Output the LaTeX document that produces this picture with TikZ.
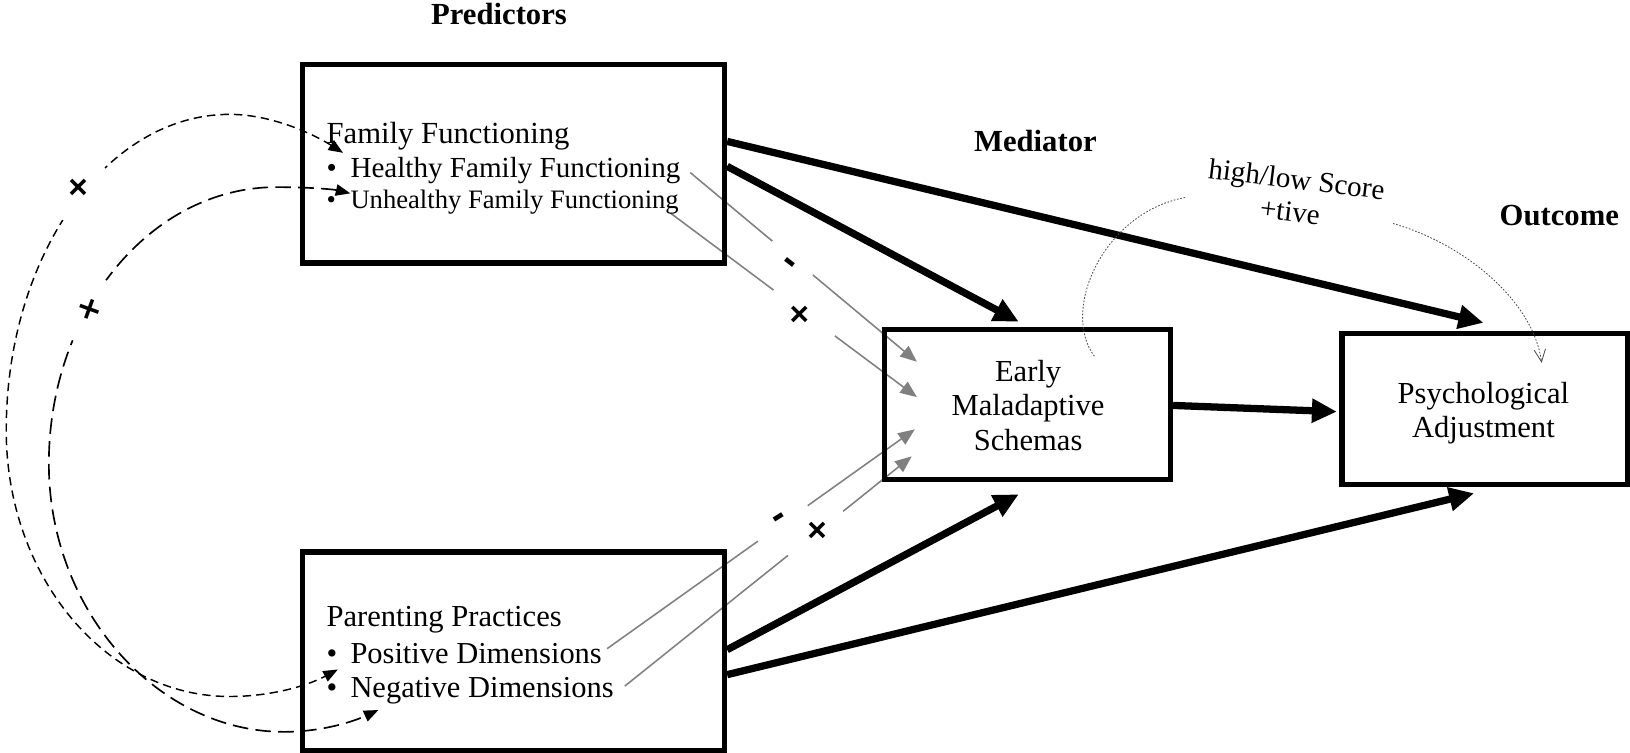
\documentclass[tikz,border=0pt]{standalone}
\usepackage{fontspec}
\setmainfont{Liberation Serif}
\newfontfamily\markfont{Liberation Sans}
\usetikzlibrary{arrows.meta,calc}
\begin{document}
\begin{tikzpicture}[x=1pt,y=-1pt,
  box/.style={draw,line width=5pt,inner sep=0pt},
  hdr/.style={font=\fontsize{29.5}{32}\selectfont\bfseries,anchor=base,inner sep=0pt},
  txt/.style={font=\fontsize{28}{32}\selectfont,anchor=base west,inner sep=0pt},
  big/.style={line width=7pt,-{Triangle[length=24pt,width=22pt]}},
  gline/.style={draw=gray,line width=1.5pt},
  garrow/.style={gline,-{Triangle[length=16pt,width=13pt]}},
  mk/.style={font=\fontsize{32}{32}\selectfont\markfont\bfseries,inner sep=0pt},
  dashA/.style={line width=1.4pt,dash pattern=on 8pt off 5pt,{Triangle[length=14pt,width=11pt]}-{Triangle[length=14pt,width=11pt]}},
  dashB/.style={line width=1.6pt,dash pattern=on 15pt off 7pt,{Triangle[length=14pt,width=11pt]}-{Triangle[length=14pt,width=11pt]}},
  dots/.style={draw=black!70,line width=0.8pt,dash pattern=on 1.6pt off 1.6pt},
]
\useasboundingbox (0,0) rectangle (1568,724);

% grey moderation lines
\coordinate (aS) at (664,166); \coordinate (aE) at (882,348);
\coordinate (bS) at (645,205); \coordinate (bE) at (882,382);
\coordinate (pS) at (584,624); \coordinate (pE) at (880,413);
\coordinate (nS) at (601,660); \coordinate (nE) at (877,439);
\draw[gline] (aS) -- ($(aS)!0.362!(aE)$);
\draw[garrow] ($(aS)!0.541!(aE)$) -- (aE);
\draw[gline] (bS) -- ($(bS)!0.418!(bE)$);
\draw[garrow] ($(bS)!0.667!(bE)$) -- (bE);
\draw[gline] (pS) -- ($(pS)!0.49!(pE)$);
\draw[garrow] ($(pS)!0.652!(pE)$) -- (pE);
\draw[gline] (nS) -- ($(nS)!0.569!(nE)$);
\draw[garrow] ($(nS)!0.761!(nE)$) -- (nE);
\node[mk,font=\fontsize{38}{38}\selectfont\markfont\bfseries,rotate=-38] (mA) at (758,255) {-};
\node[mk] (xB) at (769,304) {×};
\node[mk,font=\fontsize{38}{38}\selectfont\markfont\bfseries,rotate=32] (mP) at (751,501) {-};
\node[mk] (xN) at (786,512) {×};

% boxes
\node[box,minimum width=406pt,minimum height=191pt] (ff) at (494,157.5) {};
\node[box,minimum width=406pt,minimum height=191pt] (pp) at (494,626.5) {};
\node[box,minimum width=275pt,minimum height=144pt] (ems) at (988.5,389) {};
\node[box,minimum width=275pt,minimum height=145pt] (pa) at (1428.5,393.5) {};

% headers
\node[hdr] (hPred) at (480,24) {Predictors};
\node[hdr] (hMed) at (996,146) {Mediator};
\node[hdr] (hOut) at (1500,217) {Outcome};

% box texts
\node[txt,font=\fontsize{29.5}{32}\selectfont] (ffT) at (314,138) {Family Functioning};
\node[txt] (ffH) at (314,171) {\makebox[23pt][l]{•}Healthy Family Functioning};
\node[txt,font=\fontsize{25.6}{28}\selectfont] (ffU) at (314,200.5) {\makebox[23pt][l]{•}Unhealthy Family Functioning};
\node[txt,font=\fontsize{29.4}{32}\selectfont] (ppT) at (314,603) {Parenting Practices};
\node[txt,font=\fontsize{29.3}{32}\selectfont] (ppP) at (314,638) {\makebox[23pt][l]{•}Positive Dimensions};
\node[txt,font=\fontsize{29.3}{32}\selectfont] (ppN) at (314,670.5) {\makebox[23pt][l]{•}Negative Dimensions};
\node[font=\fontsize{29.4}{33.5}\selectfont,align=center,inner sep=0pt] (emsT) at (989,390) {Early\\Maladaptive\\Schemas};
\node[font=\fontsize{29.4}{32}\selectfont,align=center,inner sep=0pt] (paT) at (1427,397.5) {Psychological\\Adjustment};
\node[font=\fontsize{28}{32}\selectfont,rotate=-7,inner sep=0pt] (hl) at (1247,175) {high/low Score};
\node[font=\fontsize{28}{32}\selectfont,rotate=-7,inner sep=0pt] (tv) at (1241,204) {+tive};

% main paths
\draw[big] ([yshift=21.5pt]ff.east) -- ([xshift=-1.5pt,yshift=8pt]pa.north);
\draw[big] ([yshift=-2.5pt]ff.east) -- ([xshift=-8.5pt,yshift=5pt]ems.north);
\draw[big] ([yshift=-1pt]ems.east) -- ([xshift=-2.5pt,yshift=-2.5pt]pa.west);
\draw[big] ([yshift=1.5pt]pp.east) -- ([xshift=-8.5pt,yshift=-12pt]ems.south);
\draw[big] ([yshift=-22.5pt]pp.east) -- ([xshift=-10.5pt,yshift=-6pt]pa.south);

% covariance curves
\coordinate (c1s) at (330,147); \coordinate (c1e) at (325,644);
\coordinate (c2s) at (337,186); \coordinate (c2e) at (364,683);
\draw[dashA] (c1s) .. controls (300,128) and (260,110) .. (221,110)
  .. controls (102,110) and (6,246) .. (6,414)
  .. controls (6,555) and (102,670) .. (221,670)
  .. controls (260,670) and (295,660) .. (c1e);
\draw[dashB] (c2s) .. controls (320,182) and (295,180) .. (266,180)
  .. controls (145,180) and (47,299) .. (47,446)
  .. controls (47,588) and (152,704) .. (273,704)
  .. controls (310,704) and (340,694) .. (c2e);
\node[mk,circle,fill=white,minimum size=66pt] (x1) at (75,182) {×};
\node[mk,circle,fill=white,minimum size=66pt,rotate=25] (x2) at (87,299) {×};

% dotted curves
\coordinate (d1s) at (1140,190); \coordinate (d1e) at (1053,343);
\coordinate (d2s) at (1340,215); \coordinate (d2e) at (1483,349);
\draw[dots] (d1s) .. controls (1060,205) and (1020,300) .. (d1e);
\draw[dots,-{Straight Barb[length=12pt,width=11pt]}] (d2s) .. controls (1410,235) and (1475,290) .. (d2e);
\end{tikzpicture}
\end{document}
